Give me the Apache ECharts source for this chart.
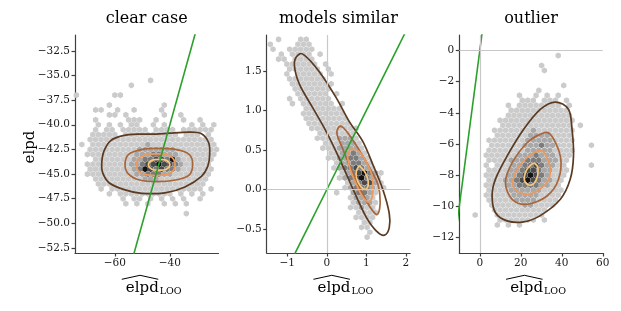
<!DOCTYPE html>
<html><head><meta charset="utf-8">
<script src="https://cdn.jsdelivr.net/npm/echarts@6/dist/echarts.min.js"></script>
<style>html,body{margin:0;padding:0;background:#fff}#c{width:621px;height:311px}</style>
</head><body><div id="c"></div>
<script>
// ---------- data ----------
const titles = ['clear case', 'models similar', 'outlier'];

// axis ranges and tick values
const xRanges = [[-74.5, -22.3], [-1.52, 2.11], [-10, 60]];
const yRanges = [[-53.0, -30.9], [-0.8, 1.955], [-13.0, 1.0]];
const xTicks = [[-60, -40], [-1, 0, 1, 2], [0, 20, 40, 60]];
const yTicks = [[-52.5, -50, -47.5, -45, -42.5, -40, -37.5, -35, -32.5],
                [-0.5, 0, 0.5, 1.0, 1.5],
                [-12, -10, -8, -6, -4, -2, 0]];
const yDecimals = [1, 1, 0];

// hexbin counts (level 1..5) on each panel's hex grid, one string per row
// grid: [x of first column, column spacing, y of first row, row spacing]
const hexGrid1 = [-74, 2, -35, 0.5];
const hexRows1 = [
  "",
  ".............1",
  "..........1",
  "",
  "1......11",
  "",
  "......1.........1",
  "...11..1..1....1",
  "......11.1......1..1",
  "...1.....111..1....1..1",
  "....1.1.1.11..1.1....1.1.1",
  "...1.11.11111.1111.111111..",
  "...11111.1111111111.111.1.",
  "..11111111111111111111111.1",
  ".1.11111111112111111111111.",
  "..111111111222222211111111.",
  "..111111111222332221111111.",
  "...1111111223344352111111..",
  "..11111111223445443211111..",
  "..11111111235434332111111..",
  "..11111111122333221111111..",
  "...111111111222111111111...",
  "....11111111111111111111...",
  "....1.11111111111111111.1..",
  "......1.1111111111.1.1.1...",
  "........1.11.1.1.1.1..1....",
  ".........1.1.1..1.1.1......",
  "",
  "....................1"
];
const hexGrid2 = [-1.5, 0.14, 1.9, 0.0625];
const hexRows2 = [
  "..1...11",
  "1....111",
  ".1..11111",
  "..1.1111.1",
  "..11.1111",
  "...111111.1",
  "....111111.1",
  "...1.11111.1",
  "....1111111",
  "....11111111",
  ".....1111111",
  ".....111111.1",
  "....1.111111",
  "....1.111111.1",
  ".......1111111",
  "......11111111",
  ".......11111111",
  ".......11111111",
  "........111111111",
  ".........1111111",
  ".........11112221",
  "..........1112221",
  "..........11122221",
  "...........1122321",
  "...........11223321",
  "............1223321",
  "............12334321",
  ".............12345321",
  ".............12355321",
  "..............1234421",
  "..............12333211",
  "............1..23321",
  "...............12221",
  "...............12221",
  "...............11211",
  "................1111",
  "................1111",
  ".................11",
  ".................11",
  "..................1",
  "..................1"
];
const hexGrid3 = [-9, 2.7, 0, 0.32];
const hexRows3 = [
  "",
  ".................1",
  "",
  "..............1",
  "...............1",
  "",
  "",
  "..................1",
  "..............1",
  "..........1..1.1.1",
  "...........111.111.1",
  "........1.11111111.1",
  ".........11111111111",
  "........111111111111",
  ".......11111111111111",
  ".......1111111111111.1",
  "......111111121111111",
  "......11111122221111",
  ".....1111111222221111",
  ".....111111222322111...1",
  ".....1111111222221111",
  "....1111112223222111",
  ".....111122233322211",
  "....1.1112233432211....1",
  ".....111122344322111",
  "....111122345432111",
  ".....11122345432211",
  "....11112233332211",
  ".....11112222221111",
  "....11111222221111",
  ".....1111122221111",
  ".....111111221111",
  "......1111111111",
  "..1...111111111",
  ".......1111111.1",
  "......1.1.1"
];

// KDE contour lines (outer -> inner), as closed rings of [x, y] points
const contours1 = [
  [[-64.8,-44.0],[-64.0,-42.7],[-61.5,-41.6],[-57,-41.1],[-51,-40.95],[-45,-40.95],[-40,-40.85],[-33,-40.75],[-28.5,-40.9],[-25.9,-41.8],[-25.5,-43.0],[-26.2,-44.2],[-28.4,-45.2],[-34.5,-46.3],[-41.8,-46.9],[-50.3,-46.95],[-56.3,-46.6],[-62.0,-45.9],[-64.4,-44.9]],
  [[-56.3,-44.1],[-55,-43.0],[-50,-42.5],[-44.8,-42.4],[-38,-42.5],[-33,-43.0],[-31.7,-44.0],[-33,-45.1],[-38,-45.6],[-44.8,-45.76],[-51,-45.6],[-55,-45.0]],
  [[-52.1,-44.1],[-50.5,-43.25],[-45,-42.95],[-40,-43.15],[-38.1,-44.0],[-39.8,-44.9],[-45,-45.15],[-50.5,-44.9]],
  [[-47.8,-44.05],[-46.5,-43.6],[-43.9,-43.5],[-41.3,-43.6],[-40,-44.05],[-41.3,-44.5],[-43.9,-44.6],[-46.5,-44.5]]
];
const contours2 = [
  [[-0.73,1.70],[-0.82,1.58],[-0.69,1.33],[-0.35,1.03],[-0.02,0.74],[0.33,0.38],[0.67,0.0],[0.99,-0.34],[1.25,-0.52],[1.46,-0.575],[1.58,-0.48],[1.58,-0.3],[1.42,0.0],[1.18,0.3],[0.91,0.61],[0.57,0.86],[0.24,1.16],[-0.19,1.49],[-0.57,1.70]],
  [[0.30,0.79],[0.26,0.70],[0.41,0.51],[0.66,0.21],[0.99,-0.13],[1.2,-0.29],[1.30,-0.30],[1.35,-0.15],[1.30,0.06],[1.16,0.21],[0.87,0.46],[0.57,0.69],[0.40,0.79]],
  [[0.62,0.51],[0.53,0.43],[0.58,0.28],[0.70,0.12],[0.86,-0.05],[1.02,-0.15],[1.12,-0.13],[1.17,0.0],[1.13,0.2],[1.0,0.35],[0.82,0.48]],
  [[0.80,0.29],[0.74,0.19],[0.82,0.07],[0.93,0.01],[1.02,0.02],[1.05,0.10],[0.98,0.21],[0.87,0.28]]
];
const contours3 = [
  [[36.8,-3.31],[43.3,-3.78],[45.0,-5.06],[45.7,-6.78],[44.1,-8.27],[39.3,-9.55],[29.5,-10.6],[21.4,-11.0],[13.3,-10.94],[7.6,-10.4],[6.0,-9.3],[7.6,-8.27],[13.3,-6.78],[21.4,-5.06],[29.5,-3.78]],
  [[34.4,-5.38],[39.3,-6.78],[38.4,-8.27],[32.8,-9.34],[23.1,-9.87],[15.8,-9.55],[12.5,-8.48],[15.8,-7.2],[23.1,-5.92],[29.5,-5.38]],
  [[30.4,-6.45],[34.4,-7.63],[32.0,-8.59],[23.8,-9.23],[16.5,-8.80],[17.4,-7.84],[23.1,-6.88]],
  [[26.8,-7.25],[28.4,-7.6],[27.5,-8.3],[24.5,-8.65],[21.8,-8.35],[22.5,-7.75],[24.8,-7.35]]
];

// y = x reference line end points per panel
const diagonalEnds = [[-80, -20], [-2, 3], [-15, 5]];
// panels that show zero reference lines
const showZero = [false, true, true];

// ---------- styling / layout ----------
const FONT = 'DejaVu Serif';
const LEVEL_COLORS = ['#ffffff', '#cbcbcb', '#a8a8a8', '#7c7c7c', '#4a4a4a', '#141414'];
const CONTOUR_COLORS = ['#5b3a22', '#a8663d', '#eb9a5f', '#f8c77e'];
const G = { top: 35, height: 218, width: 143.5, lefts: [75, 266.7, 459.3] };

function decodeHex(rows, grid) {
  const [x0, dx, y0, dy] = grid;
  const out = [];
  rows.forEach((s, r) => {
    const off = (r % 2) ? dx / 2 : 0;
    for (let i = 0; i < s.length; i++) {
      const c = s[i];
      if (c !== '.') out.push([x0 + off + i * dx, y0 - r * dy, +c]);
    }
  });
  return out;
}
const fmt = d => v => (v < 0 ? '\u2212' : '') + Math.abs(v).toFixed(d);

// closed Catmull-Rom spline through pixel points -> SVG path
function closedSpline(pts) {
  const n = pts.length;
  let d = 'M' + pts[0][0] + ',' + pts[0][1];
  for (let i = 0; i < n; i++) {
    const p0 = pts[(i - 1 + n) % n], p1 = pts[i], p2 = pts[(i + 1) % n], p3 = pts[(i + 2) % n];
    const c1 = [p1[0] + (p2[0] - p0[0]) / 6, p1[1] + (p2[1] - p0[1]) / 6];
    const c2 = [p2[0] - (p3[0] - p1[0]) / 6, p2[1] - (p3[1] - p1[1]) / 6];
    d += 'C' + c1[0] + ',' + c1[1] + ' ' + c2[0] + ',' + c2[1] + ' ' + p2[0] + ',' + p2[1];
  }
  return d + 'Z';
}

const hexData = [decodeHex(hexRows1, hexGrid1), decodeHex(hexRows2, hexGrid2), decodeHex(hexRows3, hexGrid3)];
const contourData = [contours1, contours2, contours3];

const grids = [], xAxes = [], yAxes = [], series = [], graphics = [];
const axisLineStyle = { color: '#404040', width: 1.2 };
for (let p = 0; p < 3; p++) {
  grids.push({ left: G.lefts[p], top: G.top, width: G.width, height: G.height, containLabel: false });
  xAxes.push({
    gridIndex: p, type: 'value', min: xRanges[p][0], max: xRanges[p][1],
    axisLine: { show: true, onZero: false, lineStyle: axisLineStyle },
    axisTick: { show: true, customValues: xTicks[p], length: 3.5, lineStyle: axisLineStyle },
    axisLabel: { customValues: xTicks[p], formatter: fmt(0), fontFamily: FONT, fontSize: 10.5, color: '#1a1a1a', margin: 5 },
    splitLine: { show: false }
  });
  yAxes.push({
    gridIndex: p, type: 'value', min: yRanges[p][0], max: yRanges[p][1],
    axisLine: { show: true, onZero: false, lineStyle: axisLineStyle },
    axisTick: { show: true, customValues: yTicks[p], length: 3.5, lineStyle: axisLineStyle },
    axisLabel: { customValues: yTicks[p], formatter: fmt(yDecimals[p]), fontFamily: FONT, fontSize: 10.5, color: '#1a1a1a', margin: 5 },
    splitLine: { show: false }
  });
  if (showZero[p]) {
    series.push({
      type: 'scatter', xAxisIndex: p, yAxisIndex: p, data: [], z: 1, silent: true,
      markLine: {
        silent: true, symbol: 'none', animation: false,
        label: { show: false },
        lineStyle: { color: '#c8c8c8', width: 1.2, type: 'solid' },
        data: [{ xAxis: 0 }, { yAxis: 0 }]
      }
    });
  }
  series.push({
    type: 'scatter', xAxisIndex: p, yAxisIndex: p, z: 2, silent: true, clip: true,
    data: hexData[p],
    symbol: 'path://M0,-1L0.866,-0.5L0.866,0.5L0,1L-0.866,0.5L-0.866,-0.5Z',
    symbolSize: [5.4, 6.2],
    itemStyle: { color: params => LEVEL_COLORS[params.data[2]], opacity: 1 }
  });
  const rings = contourData[p];
  series.push({
    type: 'custom', xAxisIndex: p, yAxisIndex: p, z: 3, silent: true, clip: true,
    data: rings.map((r, k) => [r[0][0], r[0][1], k]),
    encode: { x: 0, y: 1 },
    renderItem: (params, api) => {
      const k = api.value(2);
      const px = rings[k].map(pt => api.coord(pt));
      return {
        type: 'path', shape: { pathData: closedSpline(px) },
        style: { fill: 'none', stroke: CONTOUR_COLORS[k], lineWidth: 1.7 }
      };
    }
  });
  const d = diagonalEnds[p];
  series.push({
    type: 'line', xAxisIndex: p, yAxisIndex: p, z: 4, data: [[d[0], d[0]], [d[1], d[1]]],
    showSymbol: false, silent: true, clip: true,
    lineStyle: { color: '#2ca02c', width: 1.6 }
  });

  const cx = G.lefts[p] + G.width / 2;
  graphics.push({ type: 'text', x: cx, y: 19, style: { text: titles[p], fontFamily: FONT, fontSize: 16, fill: '#000', align: 'center', verticalAlign: 'middle' } });
  graphics.push({ type: 'text', x: cx + 12, y: 288, style: { text: 'elpd', fontFamily: FONT, fontSize: 15, fill: '#000', align: 'right', verticalAlign: 'middle' } });
  graphics.push({ type: 'text', x: cx + 13, y: 291.5, style: { text: 'LOO', fontFamily: FONT, fontSize: 9.5, fill: '#000', align: 'left', verticalAlign: 'middle' } });
  graphics.push({ type: 'polyline', shape: { points: [[cx - 25, 279.3], [cx - 6.7, 275.3], [cx + 11.5, 279.3]] }, style: { stroke: '#000', lineWidth: 1, fill: null } });
}
graphics.push({ type: 'text', x: 30, y: 147, rotation: Math.PI / 2, style: { text: 'elpd', fontFamily: FONT, fontSize: 15, fill: '#000', align: 'center', verticalAlign: 'middle' } });

const chart = echarts.init(document.getElementById('c'), null, { renderer: 'canvas' });
chart.setOption({
  animation: false,
  backgroundColor: '#ffffff',
  grid: grids, xAxis: xAxes, yAxis: yAxes, series: series, graphic: graphics
});
</script></body></html>
